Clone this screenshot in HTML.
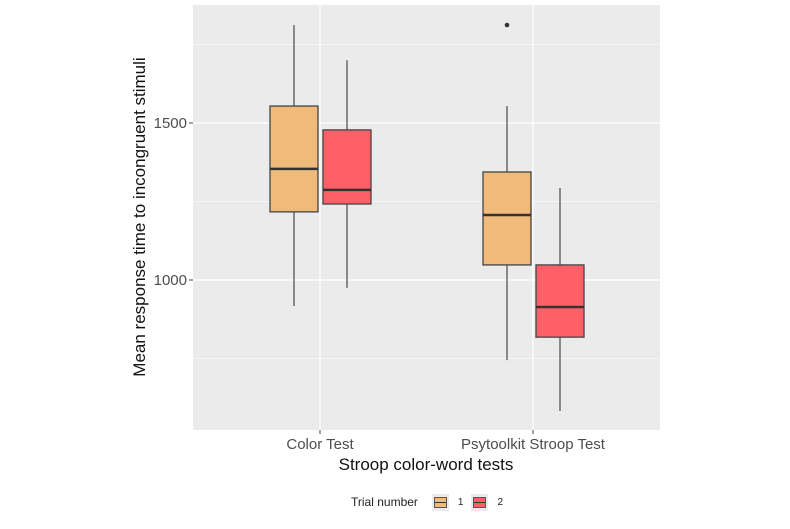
<!DOCTYPE html>
<html><head><meta charset="utf-8"><style>
body{margin:0;background:#fff;font-family:"Liberation Sans",Arial,sans-serif}
</style></head><body>
<svg id="c" width="790" height="524" xmlns="http://www.w3.org/2000/svg"></svg>
<script>
const categories=["Color Test","Psytoolkit Stroop Test"];
const trials=["1","2"];
const whiskerHigh=[[1812,1700],[1554,1293]];
const q3=[[1554,1478],[1344,1048]];
const medians=[[1354,1287],[1207,914]];
const q1=[[1217,1242],[1048,818]];
const whiskerLow=[[917,975],[745,583]];
const outliers=[[[],[]],[[1812],[]]];
const yTicks=[1000,1500];
const yMinor=[750,1250,1750];
const colors=["#f0bb7a","#ff6068"];
const NS="http://www.w3.org/2000/svg";
const svg=document.getElementById("c");
const L=193,R=660,T=5,B=430;
const y=v=>123-(v-1500)*157/500;
const xc=i=>320+i*213;
function mk(t,a,p){const e=document.createElementNS(NS,t);for(const k in a)e.setAttribute(k,a[k]);(p||svg).appendChild(e);return e;}
const panel=mk("rect",{x:L,y:T,width:R-L,height:B-T,fill:"#ebebeb"});


yMinor.forEach(v=>{const l=mk("line",{x1:L,x2:R,y1:y(v),y2:y(v),stroke:"#fff","stroke-width":0.6});

});
yTicks.forEach(v=>{const l=mk("line",{x1:L,x2:R,y1:y(v),y2:y(v),stroke:"#fff","stroke-width":1.2});


const tk=mk("line",{x1:L-4,x2:L,y1:y(v),y2:y(v),stroke:"#444","stroke-width":1});


const t=mk("text",{x:L-6,y:y(v)+5,"text-anchor":"end","font-size":15,fill:"#4d4d4d"});t.textContent=v;

});
categories.forEach((c,i)=>{const l=mk("line",{x1:xc(i),x2:xc(i),y1:T,y2:B,stroke:"#fff","stroke-width":1.2});


const tk=mk("line",{x1:xc(i),x2:xc(i),y1:B,y2:B+4,stroke:"#444"});


const t=mk("text",{x:xc(i),y:B+19,"text-anchor":"middle","font-size":15,fill:"#4d4d4d"});t.textContent=c;

});
categories.forEach((c,i)=>{trials.forEach((tr,j)=>{
const cx=xc(i)+(j===0?-26:27),w=48;
const g=mk("g",{});


mk("line",{x1:cx,x2:cx,y1:y(whiskerHigh[i][j]),y2:y(whiskerLow[i][j]),stroke:"#555","stroke-width":1.3},g);
mk("rect",{x:cx-w/2,y:y(q3[i][j]),width:w,height:y(q1[i][j])-y(q3[i][j]),fill:colors[j],stroke:"#444","stroke-width":1.3},g);
mk("line",{x1:cx-w/2,x2:cx+w/2,y1:y(medians[i][j]),y2:y(medians[i][j]),stroke:"#333","stroke-width":2.5},g);
outliers[i][j].forEach(o=>{const p=mk("circle",{cx:cx,cy:y(o),r:2.3,fill:"#333"},g);

});
});});
</script>
<div style="position:absolute;left:140px;top:217px;transform:translate(-50%,-50%) rotate(-90deg);font-size:17px;color:#111;white-space:nowrap">Mean response time to incongruent stimuli</div>
<div style="position:absolute;left:426px;top:465px;transform:translate(-50%,-50%);font-size:17px;color:#111;white-space:nowrap">Stroop color-word tests</div>
<div style="position:absolute;left:351px;top:494px;font-size:12px;color:#222;display:flex;align-items:center;height:16px">
<span style="margin-right:14px">Trial number</span>
<span style="display:inline-block;width:17px;height:17px;background:#ebebeb;position:relative;margin-right:9px"><span style="position:absolute;left:2px;top:3px;width:11px;height:9px;background:#f0bb7a;border:1px solid #555"></span><span style="position:absolute;left:3px;top:8px;width:11px;height:1px;background:#333"></span></span>
<span style="margin-right:8px;font-size:10px">1</span>
<span style="display:inline-block;width:17px;height:17px;background:#ebebeb;position:relative;margin-right:9px"><span style="position:absolute;left:2px;top:3px;width:11px;height:9px;background:#ff6068;border:1px solid #555"></span><span style="position:absolute;left:3px;top:8px;width:11px;height:1px;background:#333"></span></span>
<span style="font-size:10px">2</span>
</div>
</body></html>
